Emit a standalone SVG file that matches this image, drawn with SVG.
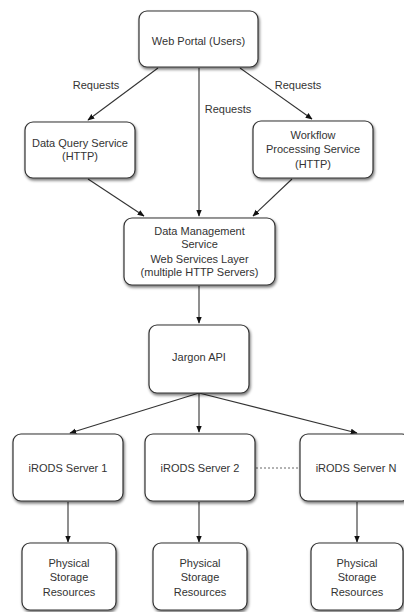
<svg xmlns="http://www.w3.org/2000/svg" width="404" height="612" viewBox="0 0 404 612">
<defs>
<filter id="sh" x="-20%" y="-20%" width="140%" height="150%">
<feGaussianBlur in="SourceAlpha" stdDeviation="1.5"/>
<feOffset dx="1" dy="2" result="b"/>
<feComponentTransfer><feFuncA type="linear" slope="0.55"/></feComponentTransfer>
<feMerge><feMergeNode/><feMergeNode in="SourceGraphic"/></feMerge>
</filter>
<marker id="ah" viewBox="0 0 10 10" refX="9" refY="5" markerWidth="7" markerHeight="7" orient="auto" markerUnits="userSpaceOnUse">
<path d="M0,1 L10,5 L0,9 Z" fill="#111"/>
</marker>
</defs>
<style>
.box{fill:#fff;stroke:#333;stroke-width:1.2;filter:url(#sh)}
.t{font-family:"Liberation Sans",Arial,sans-serif;font-size:11px;fill:#333;text-anchor:middle}
.lbl{font-family:"Liberation Sans",Arial,sans-serif;font-size:11px;fill:#333;text-anchor:middle}
.c{stroke:#333;stroke-width:1.1;fill:none;marker-end:url(#ah)}
.d{stroke:#666;stroke-width:1;fill:none;stroke-dasharray:2,2}
</style>
<rect width="404" height="612" fill="#fff"/>
<g id="connectors">
<line class="c" x1="158" y1="68" x2="88" y2="120"/>
<line class="c" x1="199" y1="68" x2="199" y2="216"/>
<line class="c" x1="240" y1="68" x2="312" y2="119"/>
<line class="c" x1="88" y1="179" x2="144" y2="216"/>
<line class="c" x1="292" y1="179" x2="253" y2="216"/>
<line class="c" x1="199" y1="286" x2="199" y2="323"/>
<line class="c" x1="199" y1="393" x2="70" y2="433"/>
<line class="c" x1="199" y1="393" x2="199" y2="432"/>
<line class="c" x1="199" y1="393" x2="357" y2="433"/>
<line class="c" x1="68" y1="502" x2="68" y2="542"/>
<line class="c" x1="199" y1="502" x2="199" y2="542"/>
<line class="c" x1="357" y1="502" x2="357" y2="542"/>
<line class="d" x1="256" y1="468" x2="299" y2="468"/>
<text class="lbl" x="96" y="89">Requests</text>
<text class="lbl" x="228" y="113">Requests</text>
<text class="lbl" x="298" y="89">Requests</text>
</g>
<g id="web-portal">
<rect class="box" x="139" y="11" width="119" height="56" rx="8"/>
<text class="t" x="198.5" y="45">Web Portal (Users)</text>
</g>
<g id="data-query">
<rect class="box" x="25" y="122" width="110" height="56" rx="8"/>
<text class="t" x="80" y="147">Data Query Service</text>
<text class="t" x="80" y="160">(HTTP)</text>
</g>
<g id="workflow">
<rect class="box" x="253" y="121" width="120" height="57" rx="8"/>
<text class="t" x="313" y="139">Workflow</text>
<text class="t" x="313" y="153">Processing Service</text>
<text class="t" x="313" y="168">(HTTP)</text>
</g>
<g id="data-management">
<rect class="box" x="124" y="218" width="151" height="67" rx="8"/>
<text class="t" x="199.5" y="235">Data Management</text>
<text class="t" x="199.5" y="248">Service</text>
<text class="t" x="199.5" y="263">Web Services Layer</text>
<text class="t" x="199.5" y="276">(multiple HTTP Servers)</text>
</g>
<g id="jargon">
<rect class="box" x="149" y="325" width="100" height="68" rx="8"/>
<text class="t" x="199" y="361">Jargon API</text>
</g>
<g id="irods-1">
<rect class="box" x="13" y="434" width="110" height="67" rx="8"/>
<text class="t" x="68" y="472">iRODS Server 1</text>
</g>
<g id="irods-2">
<rect class="box" x="145" y="434" width="110" height="67" rx="8"/>
<text class="t" x="200" y="472">iRODS Server 2</text>
</g>
<g id="irods-n">
<rect class="box" x="300" y="434" width="110" height="67" rx="8"/>
<text class="t" x="356" y="472">iRODS Server N</text>
</g>
<g id="storage-1">
<rect class="box" x="22" y="543" width="94" height="67" rx="8"/>
<text class="t" x="69" y="567">Physical</text>
<text class="t" x="69" y="581">Storage</text>
<text class="t" x="69" y="596">Resources</text>
</g>
<g id="storage-2">
<rect class="box" x="153" y="543" width="94" height="67" rx="8"/>
<text class="t" x="200" y="567">Physical</text>
<text class="t" x="200" y="581">Storage</text>
<text class="t" x="200" y="596">Resources</text>
</g>
<g id="storage-n">
<rect class="box" x="311" y="543" width="92" height="67" rx="8"/>
<text class="t" x="357" y="567">Physical</text>
<text class="t" x="357" y="581">Storage</text>
<text class="t" x="357" y="596">Resources</text>
</g>
</svg>
